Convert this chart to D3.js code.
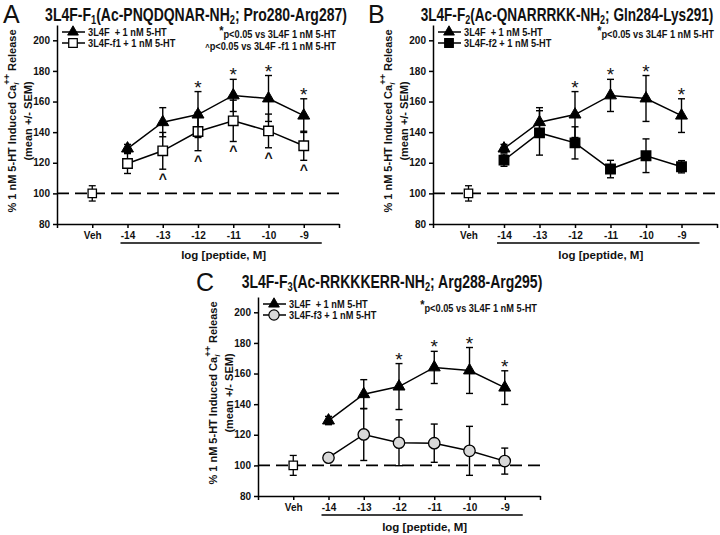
<!DOCTYPE html>
<meta charset="utf-8">
<script src="https://d3js.org/d3.v7.min.js"></script>
<style>
  body { margin: 0; background: #fff; }
  text { fill: #111; }
</style>
<div id="chart"></div>
<script>
// categories along the x axis
const categories = ["Veh", "-14", "-13", "-12", "-11", "-10", "-9"];
const doses = ["-14", "-13", "-12", "-11", "-10", "-9"];
const yTicks = [80, 100, 120, 140, 160, 180, 200];

// 3L4F + 1 nM 5-HT (same curve in every panel)
const parentMean = [129.3, 146.5, 151.5, 164, 162, 150.8];
const parentSem  = [2.7, 9.5, 15, 10.5, 15, 11];
// fragments + 1 nM 5-HT
const f1Mean = [119.5, 127.8, 140.4, 147.4, 140.8, 131.1];
const f1Sem  = [6.5, 12, 12.5, 13.5, 11, 9.5];
const f2Mean = [121.7, 139.5, 133, 115.9, 124.6, 117.4];
const f2Sem  = [4, 14.5, 10.5, 5.7, 11, 4];
const f3Mean = [105, 120.2, 114.8, 114.5, 109.5, 102.8];
const f3Sem  = [2.5, 17, 15, 12.5, 16, 8.5];
// vehicle, one per panel
const vehMean = [100, 100, 100];
const vehSem  = [5, 5, 6.5];
// significance marks
const starDoses = ["-12", "-11", "-10", "-9"];
const caretDoses = ["-13", "-12", "-11", "-10", "-9"];

const SANS = "'Liberation Sans',Arial,sans-serif";

const svg = d3.select("#chart").append("svg")
    .attr("width", 720).attr("height", 535);

// panel layout
const panels = [
  {letter: "A", lx: 3, ly: 23, left: 57, right: 339, top: 25, bottom: 224, titleX: 196, titleY: 21, titleW: 302,
   title: ["3L4F-F", "1", "(Ac-PNQDQNAR-NH", "2", ";  Pro280-Arg287)"],
   frag: "3L4F-f1 + 1 nM 5-HT", mean: f1Mean, sem: f1Sem, marker: "openSquare",
   notes: [["*", "p<0.05 vs 3L4F 1 nM 5-HT"], ["^", "p<0.05 vs 3L4F -f1 1 nM 5-HT"]], noteY: 38, veh: 0, caret: true},
  {letter: "B", lx: 368, ly: 23, left: 433, right: 717, top: 25, bottom: 224, titleX: 567, titleY: 21, titleW: 293,
   title: ["3L4F-F", "2", "(Ac-QNARRRKK-NH", "2", ";  Gln284-Lys291)"],
   frag: "3L4F-f2 + 1 nM 5-HT", mean: f2Mean, sem: f2Sem, marker: "filledSquare",
   notes: [["*", "p<0.05 vs 3L4F 1 nM 5-HT"]], noteY: 38, veh: 1, caret: false},
  {letter: "C", lx: 196, ly: 291, left: 258, right: 540, top: 297, bottom: 496, titleX: 392, titleY: 288, titleW: 301,
   title: ["3L4F-F", "3", "(Ac-RRKKKERR-NH", "2", ";  Arg288-Arg295)"],
   frag: "3L4F-f3 + 1 nM 5-HT", mean: f3Mean, sem: f3Sem, marker: "circle",
   notes: [["*", "p<0.05 vs 3L4F 1 nM 5-HT"]], noteY: 312, veh: 2, caret: false}
];

// text squeezed horizontally, to mimic the condensed font of the figure
function narrowText(parent, x, y, sx) {
  return parent.append("g").attr("transform", `translate(${x},${y}) scale(${sx},1)`)
    .append("text").style("font-family", SANS).style("font-weight", "bold");
}

function drawMarker(g, type, cx, cy) {
  if (type === "triangle") {
    g.append("path").attr("d", d3.symbol(d3.symbolTriangle, 62)())
      .attr("transform", `translate(${cx},${cy})`).attr("fill", "#000").attr("stroke", "#000");
  } else if (type === "openSquare" || type === "filledSquare") {
    g.append("path").attr("d", d3.symbol(d3.symbolSquare, 90)())
      .attr("transform", `translate(${cx},${cy})`)
      .attr("fill", type === "openSquare" ? "#fff" : "#000")
      .attr("stroke", "#000").attr("stroke-width", 1.4);
  } else if (type === "vehSquare") {
    g.append("path").attr("d", d3.symbol(d3.symbolSquare, 70)())
      .attr("transform", `translate(${cx},${cy})`)
      .attr("fill", "#fff").attr("stroke", "#000").attr("stroke-width", 1.3);
  } else {
    g.append("circle").attr("cx", cx).attr("cy", cy).attr("r", 5.7)
      .attr("fill", "#d8d8d8").attr("stroke", "#000").attr("stroke-width", 1.3);
  }
}

function errorBar(g, x, y, cat, m, s) {
  const cx = x(cat);
  g.append("line").attr("x1", cx).attr("x2", cx).attr("y1", y(m - s)).attr("y2", y(m + s));
  [m - s, m + s].forEach(v => {
    g.append("line").attr("x1", cx - 3.5).attr("x2", cx + 3.5).attr("y1", y(v)).attr("y2", y(v));
  });
}

function drawSeries(g, x, y, means, sems, marker) {
  const pts = doses.map((c, i) => ({c, m: means[i], s: sems[i]}));
  g.append("path").datum(pts)
    .attr("d", d3.line().x(d => x(d.c)).y(d => y(d.m)))
    .attr("fill", "none").attr("stroke", "#000").attr("stroke-width", 1.5);
  const eb = g.append("g").attr("stroke", "#000").attr("stroke-width", 1.4);
  pts.forEach(d => errorBar(eb, x, y, d.c, d.m, d.s));
  pts.forEach(d => drawMarker(g, marker, x(d.c), y(d.m)));
}

panels.forEach(p => {
  const g = svg.append("g");
  const x = d3.scalePoint().domain(["lo", ...categories, "hi"]).range([p.left, p.right]);
  const y = d3.scaleLinear().domain([80, 210]).range([p.bottom, p.top]);

  // panel letter and title
  g.append("text").attr("x", p.lx).attr("y", p.ly)
    .style("font-family", SANS).style("font-size", "25px").text(p.letter);
  const tg = g.append("g");
  const t = tg.append("text").attr("text-anchor", "middle")
    .style("font-family", SANS).style("font-size", "18px").style("font-weight", "bold");
  t.append("tspan").text(p.title[0]);
  t.append("tspan").attr("dy", 3).style("font-size", "12px").text(p.title[1]);
  t.append("tspan").attr("dy", -3).text(p.title[2]);
  t.append("tspan").attr("dy", 3).style("font-size", "12px").text(p.title[3]);
  t.append("tspan").attr("dy", -3).text(p.title[4]);
  const tw = t.node().getBBox().width;
  tg.attr("transform", `translate(${p.titleX},${p.titleY}) scale(${p.titleW / tw},1)`);

  // axes
  const gx = g.append("g").attr("transform", `translate(0,${p.bottom})`)
    .call(d3.axisBottom(x).tickSize(4).tickSizeOuter(0).tickFormat(d => categories.includes(d) ? d : ""));
  gx.selectAll("text").attr("y", 8)
    .style("font-family", SANS).style("font-size", "10px").style("font-weight", "bold").attr("fill", "#222");
  const gy = g.append("g").attr("transform", `translate(${p.left},0)`)
    .call(d3.axisLeft(y).tickValues(yTicks).tickSize(4).tickSizeOuter(0));
  gy.selectAll("text").attr("x", -7)
    .style("font-family", SANS).style("font-size", "10px").style("font-weight", "bold").attr("fill", "#222");
  g.selectAll(".domain, .tick line").attr("stroke", "#000").attr("stroke-width", 1.5);

  // bracket under the concentrations and x title
  g.append("line").attr("x1", x("-14") - 7).attr("x2", x("-9") + 18)
    .attr("y1", p.bottom + 19).attr("y2", p.bottom + 19).attr("stroke", "#000").attr("stroke-width", 1.3);
  g.append("text").attr("x", (x("-14") + x("-9")) / 2 + 8).attr("y", p.bottom + 35)
    .attr("text-anchor", "middle")
    .style("font-family", SANS).style("font-size", "11.5px").style("font-weight", "bold")
    .text("log [peptide, M]");

  // y title
  const cy = p.bottom - 103;
  const yl = g.append("text")
    .attr("transform", `translate(${p.left - 41},${cy}) rotate(-90)`)
    .attr("text-anchor", "middle")
    .style("font-family", SANS).style("font-size", "11px").style("font-weight", "bold");
  yl.append("tspan").text("% 1 nM 5-HT Induced Ca");
  yl.append("tspan").attr("dy", 3).style("font-size", "8px").style("font-style", "italic").text("i");
  yl.append("tspan").attr("dx", -2).attr("dy", -9).style("font-size", "9px").text("++");
  yl.append("tspan").attr("dy", 6).text(" Release");
  g.append("text")
    .attr("transform", `translate(${p.left - 25},${cy}) rotate(-90)`)
    .attr("text-anchor", "middle")
    .style("font-family", SANS).style("font-size", "11px").style("font-weight", "bold")
    .text("(mean +/- SEM)");

  // baseline at 100 %
  g.append("line").attr("x1", p.left).attr("x2", p.right)
    .attr("y1", y(100)).attr("y2", y(100))
    .attr("stroke", "#000").attr("stroke-width", 1.7).attr("stroke-dasharray", "12,6");

  // vehicle
  const veb = g.append("g").attr("stroke", "#000").attr("stroke-width", 1.3);
  errorBar(veb, x, y, "Veh", vehMean[p.veh], vehSem[p.veh]);
  drawMarker(g, "vehSquare", x("Veh"), y(vehMean[p.veh]));

  // data series
  drawSeries(g, x, y, p.mean, p.sem, p.marker);
  drawSeries(g, x, y, parentMean, parentSem, "triangle");

  // significance marks
  starDoses.forEach(c => {
    const i = doses.indexOf(c);
    g.append("text").attr("x", x(c)).attr("y", y(parentMean[i] + parentSem[i]) + 2)
      .attr("text-anchor", "middle")
      .style("font-family", SANS).style("font-size", "19px").text("*");
  });
  if (p.caret) {
    caretDoses.forEach(c => {
      const i = doses.indexOf(c);
      g.append("text").attr("x", x(c)).attr("y", y(p.mean[i] - p.sem[i]) + 15)
        .attr("text-anchor", "middle")
        .style("font-family", SANS).style("font-size", "14px").style("font-weight", "bold").text("^");
    });
  }

  // legend
  const legend = [["3L4F  + 1 nM 5-HT", "triangle"], [p.frag, p.marker]];
  legend.forEach((d, i) => {
    const ly = p.top + 7 + i * 11;
    g.append("line").attr("x1", p.left + 5).attr("x2", p.left + 28)
      .attr("y1", ly).attr("y2", ly).attr("stroke", "#000").attr("stroke-width", 1.5);
    const lg = g.append("g").attr("transform", `translate(${p.left + 16},${ly}) scale(0.9)`);
    drawMarker(lg, d[1], 0, 0);
    narrowText(g, p.left + 31, ly + 4, 0.84).style("font-size", "11px")
      .attr("xml:space", "preserve").text(d[0]);
  });

  // notes
  p.notes.forEach((n, i) => {
    const nt = narrowText(g, p.right - 3, p.noteY + i * 11.5, 0.84)
      .attr("text-anchor", "end").style("font-size", "11px");
    if (n[0] === "*") {
      nt.append("tspan").attr("dy", -3).style("font-size", "13px").text("*");
      nt.append("tspan").attr("dy", 3).text(n[1]);
    } else {
      nt.append("tspan").style("font-size", "9px").text(n[0]);
      nt.append("tspan").text(n[1]);
    }
  });
});
</script>
